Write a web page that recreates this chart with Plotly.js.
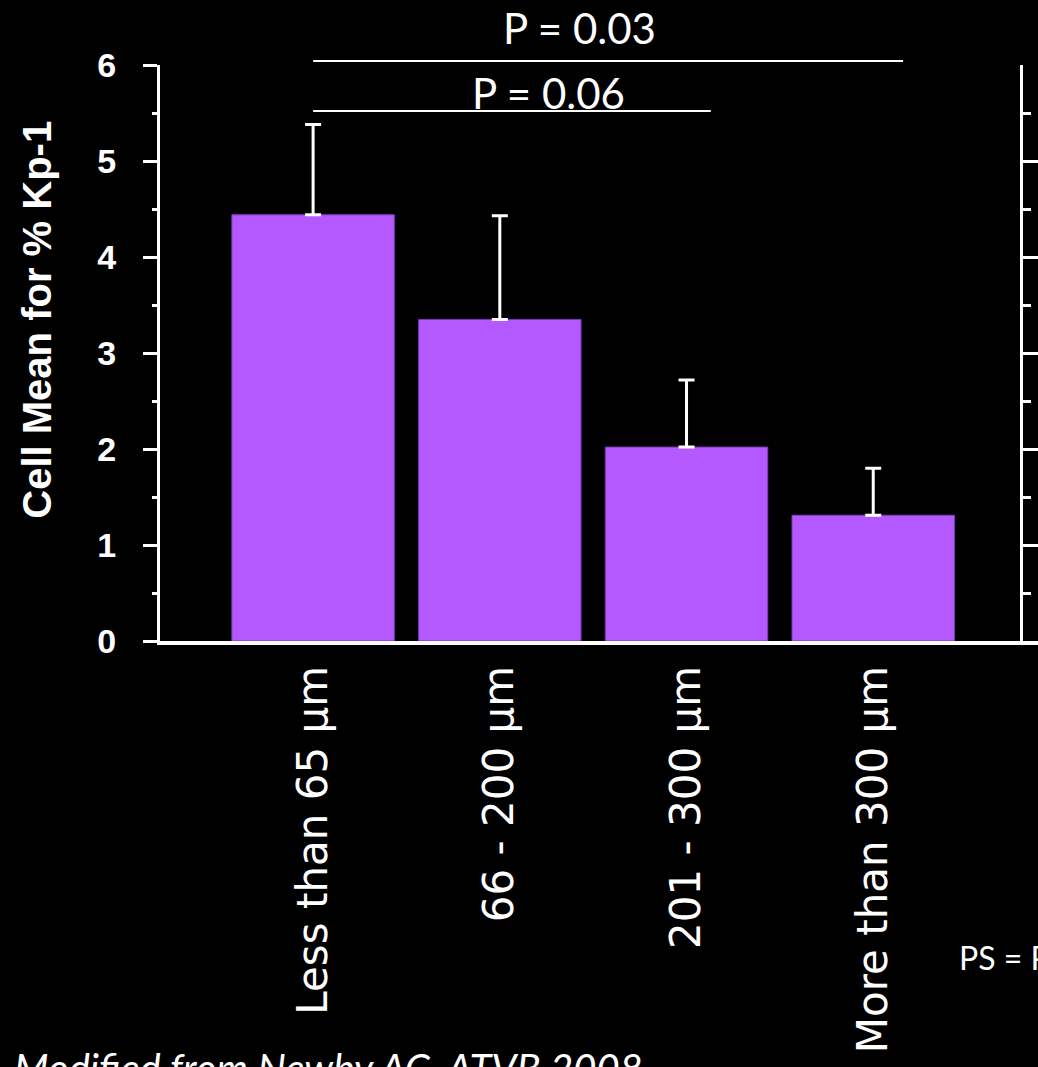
<!DOCTYPE html>
<html>
<head>
<meta charset="utf-8">
<script src="https://cdn.plot.ly/plotly-3.0.1.min.js"></script>
<style>
  html, body { margin: 0; padding: 0; background: #000; }
  #chart { width: 1038px; height: 1067px; }
</style>
</head>
<body>
<div id="chart"></div>
<script>
// Plaque-size groups and the cell mean for % Kp-1 in each
const categories = ['Less than 65 \u03bcm', '66 - 200 \u03bcm', '201 - 300 \u03bcm', 'More than 300 \u03bcm'];
const cellMean = [4.44, 3.35, 2.02, 1.31];
const errorUpper = [0.94, 1.08, 0.70, 0.49];

// Pairwise comparisons: bracket from a group to an end position, with its P label
const comparisons = [
  { from: 0, to: 3.16, level: 1.007, text: 'P = 0.03', tx: 0.478, ty: 1.064 },
  { from: 0, to: 2.13, level: 0.920, text: 'P = 0.06', tx: 0.443, ty: 0.951 }
];

const yTickVals = [0, 1, 2, 3, 4, 5, 6];

const barTrace = {
  type: 'bar',
  x: categories,
  y: cellMean,
  width: 0.87,
  marker: { color: '#b359ff', line: { color: '#7d3bb5', width: 1 } },
  error_y: {
    type: 'data',
    symmetric: false,
    array: errorUpper,
    arrayminus: errorUpper.map(() => 0),
    color: '#ffffff',
    thickness: 3,
    width: 8
  },
  hoverinfo: 'x+y'
};

// Empty trace so the neighbouring panel's axes get drawn
const sidePanel = { type: 'scatter', x: [], y: [], xaxis: 'x2', yaxis: 'y2', hoverinfo: 'skip' };

const shapes = comparisons.map(c => ({
  type: 'line', xref: 'x', yref: 'paper',
  x0: c.from, x1: c.to, y0: c.level, y1: c.level,
  line: { color: '#ffffff', width: 2 }
}));

const annotations = comparisons.map(c => ({
  xref: 'paper', yref: 'paper', x: c.tx, y: c.ty,
  xanchor: 'center', yanchor: 'middle', showarrow: false,
  text: c.text,
  font: { family: 'Lato, "Open Sans", sans-serif', size: 42, color: '#ffffff' }
}));

annotations.push({
  xref: 'paper', yref: 'paper', x: -0.14, y: 0.558,
  xanchor: 'center', yanchor: 'middle', showarrow: false, textangle: -90,
  text: 'Cell Mean for % Kp-1',
  font: { family: '"Liberation Sans", Arial, sans-serif', size: 40, color: '#ffffff', weight: 'bold' }
});

annotations.push({
  xref: 'paper', yref: 'paper', x: -0.168, y: -0.696,
  xanchor: 'left', yanchor: 'top', showarrow: false,
  text: '<i>Modified from Newby AC, ATVB 2008</i>',
  font: { family: 'Lato, "Open Sans", sans-serif', size: 40, color: '#ffffff', style: 'italic' }
});

annotations.push({
  xref: 'paper', yref: 'paper', x: 0.908, y: -0.550,
  xanchor: 'left', yanchor: 'middle', showarrow: false,
  text: 'PS = P',
  font: { family: 'Lato, "Open Sans", sans-serif', size: 32, color: '#ffffff' }
});

const layout = {
  width: 1038,
  height: 1067,
  paper_bgcolor: '#000000',
  plot_bgcolor: '#000000',
  margin: { l: 160, r: 0, t: 65, b: 426 },
  showlegend: false,
  bargap: 0,
  xaxis: {
    domain: [0, 0.9829],
    range: [-0.82, 3.802],
    showline: true, linecolor: '#ffffff', linewidth: 4,
    showgrid: false, zeroline: false,
    ticks: '',
    tickangle: -90,
    ticklabelstandoff: 4,
    tickfont: { family: '"DejaVu Sans", Verdana, sans-serif', size: 42, color: '#ffffff' }
  },
  yaxis: {
    range: [0, 6],
    tickvals: yTickVals,
    showline: true, linecolor: '#ffffff', linewidth: 3,
    showgrid: false, zeroline: false,
    ticks: 'outside', ticklen: 14, tickwidth: 3, tickcolor: '#ffffff',
    minor: { dtick: 0.5, ticks: 'outside', ticklen: 5, tickwidth: 3, tickcolor: '#ffffff', showgrid: false },
    ticklabelstandoff: 20,
    tickfont: { family: '"Liberation Sans", Arial, sans-serif', size: 34, color: '#ffffff', weight: 'bold' }
  },
  xaxis2: {
    domain: [0.9829, 1],
    anchor: 'y2',
    range: [0, 1],
    showline: true, linecolor: '#ffffff', linewidth: 4,
    showgrid: false, zeroline: false, showticklabels: false, ticks: ''
  },
  yaxis2: {
    anchor: 'x2',
    range: [0, 6],
    tickvals: yTickVals,
    showline: true, linecolor: '#ffffff', linewidth: 3,
    showgrid: false, zeroline: false, showticklabels: false,
    ticks: 'inside', ticklen: 15, tickwidth: 3, tickcolor: '#ffffff',
    minor: { dtick: 0.5, ticks: 'inside', ticklen: 8, tickwidth: 3, tickcolor: '#ffffff', showgrid: false }
  },
  shapes: shapes,
  annotations: annotations
};

Plotly.newPlot('chart', [barTrace, sidePanel], layout, { displayModeBar: false, staticPlot: true });
</script>
</body>
</html>
